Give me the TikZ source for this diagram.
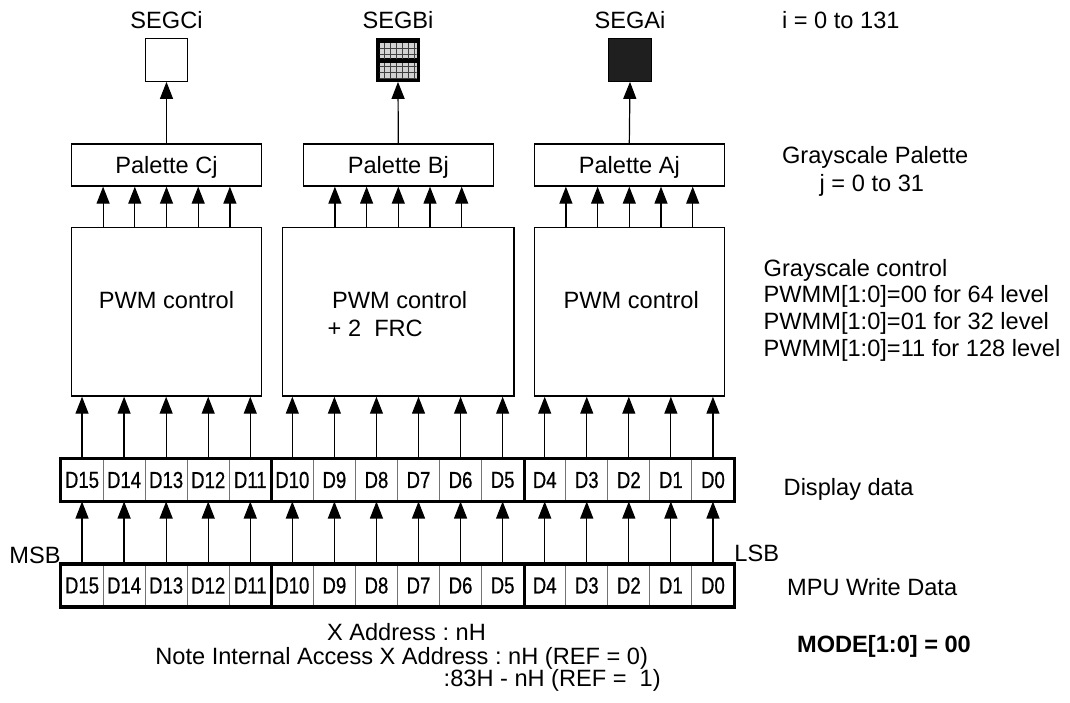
\documentclass[tikz,border=0pt]{standalone}
\usepackage{fontspec}
\setmainfont{Liberation Sans}
\newfontfamily\datafont[FakeStretch=0.8,FakeBold=0.6]{Liberation Sans}
\usetikzlibrary{arrows.meta, patterns}

\tikzset{
  blk/.style={draw, line width=0.65pt, inner sep=0pt, text depth=0pt},
  segbox/.style={blk, minimum size=21.2pt},
  cell/.style={draw=black!55, line width=0.5pt, minimum width=21.03pt, minimum height=21pt,
    inner sep=0pt, font=\datafont\fontsize{11.6}{13}\selectfont},
  frame/.style={line width=1.6pt},
  lbl/.style={anchor=base west, inner sep=0pt},
  lblbf/.style={lbl, font=\fontsize{11.8}{14}\selectfont\bfseries},
  wire/.style={-{Triangle[length=8.5pt,width=6.5pt]}, line width=0.6pt},
}

\begin{document}
\frenchspacing
\begin{tikzpicture}[x=0.5pt, y=-0.5pt, font=\fontsize{11.8}{14}\selectfont]
            \useasboundingbox (0,0) rectangle (1070,702);
            % segment outputs
            \node[segbox, fill=white] (segC) at (166.5,60) {};
            \node[segbox, fill=black] (segB) at (398,60) {};
            \node[segbox, fill=black!88] (segA) at (630,60) {};
            \fill[gray!35] (379.5,43) rectangle (416.5,58);
            \fill[gray!35] (379.5,63) rectangle (416.5,78.5);
            \fill[pattern=grid, pattern color=black!75] (379.5,43) rectangle (416.5,58);
            \fill[pattern=grid, pattern color=black!75] (379.5,63) rectangle (416.5,78.5);
            \node[anchor=base, inner sep=0pt] (tSegC) at (166.5,28) {SEGCi};
            \node[anchor=base, inner sep=0pt] (tSegB) at (398,28) {SEGBi};
            \node[anchor=base, inner sep=0pt] (tSegA) at (630,28) {SEGAi};
            % palettes
            \node[blk, minimum width=94.8pt, minimum height=21pt] (palC) at (166.5,165) {Palette Cj};
            \node[blk, minimum width=95pt, minimum height=21pt] (palB) at (398.3,165) {Palette Bj};
            \node[blk, minimum width=95pt, minimum height=21pt] (palA) at (629.3,165) {Palette Aj};
            % PWM blocks
            \node[blk, minimum width=94.8pt, minimum height=84.35pt] (pwmC) at (166.5,311.7) {};
            \node[blk, minimum width=115.85pt, minimum height=84.35pt] (pwmB) at (398.15,311.7) {};
            \node[blk, minimum width=95pt, minimum height=84.35pt] (pwmA) at (629.3,311.7) {};
            \node[anchor=base, inner sep=0pt] (tPwmC) at (166.5,308.5) {PWM control};
            \node[lbl] (tPwmB) at (331.7,308.5) {PWM control};
            \node[lbl] (tFrc) at (327.3,336.5) {+ 2\ \ FRC};
            \node[lbl] (tPwmA) at (563.3,308.5) {PWM control};
            % data rows
            \foreach \k in {0,...,15} {
                \pgfmathtruncatemacro\b{15-\k}
                \node[cell] (d\b) at (82.03+42.06*\k,480) {D\b};
                \node[cell] (m\b) at (82.03+42.06*\k,585.5) {D\b};
                \draw[wire] (m\b.north) -- (d\b.south);
            }
            \foreach \r in {d,m} {
                \draw[frame] (\r15.north west) rectangle (\r0.south east);
                \draw[frame] (\r11.north east) -- (\r11.south east);
                \draw[frame] (\r5.north east) -- (\r5.south east);
            }
            % data to PWM
            \foreach \b in {15,...,11}
                \draw[wire] (d\b.north) -- (d\b.north |- pwmC.south);
            \foreach \b in {10,...,5}
                \draw[wire] (d\b.north) -- (d\b.north |- pwmB.south);
            \foreach \b in {4,...,0}
                \draw[wire] (d\b.north) -- (d\b.north |- pwmA.south);
            % PWM to palettes to segments
            \foreach \p in {A,B,C} {
                \foreach \s in {-2,...,2}
                    \draw[wire] ([xshift=\s*15.85pt]pal\p.south |- pwm\p.north) -- ([xshift=\s*15.85pt]pal\p.south);
                \draw[wire] (pal\p.north) -- (seg\p.south);
            }
            % notes
            \node[lbl] (iRange) at (781.7,28.5) {i = 0 to 131};
            \node[lbl] (palTitle) at (781.7,163.5) {Grayscale Palette};
            \node[lbl] (jRange) at (819.3,191) {j = 0 to 31};
            \node[lbl] (ctlTitle) at (763.3,276.5) {Grayscale control};
            \node[lbl] (pwm00) at (763.3,302) {PWMM[1:0]=00 for 64 level};
            \node[lbl] (pwm01) at (763.3,329.5) {PWMM[1:0]=01 for 32 level};
            \node[lbl] (pwm11) at (763.3,356.5) {PWMM[1:0]=11 for 128 level};
            \node[lbl] (dispLbl) at (783.3,495) {Display data};
            \node[lbl] (mpuLbl) at (786.7,595) {MPU Write Data};
            \node[lblbf] (modeLbl) at (796.7,652.7) {MODE[1:0] = 00};
            \node[anchor=base east, inner sep=0pt] (msb) at (61,563) {MSB};
            \node[lbl] (lsb) at (734,561.7) {LSB};
            \node[lbl] (xAddr) at (326.7,640) {X Address : nH};
            \node[lbl] (note) at (155,664.3) {Note Internal Access X Address : nH (REF = 0)};
            \node[lbl] (noteRef) at (443.3,686.7) {:83H - nH (REF =\ \ 1)};
        \end{tikzpicture}
\end{document}
